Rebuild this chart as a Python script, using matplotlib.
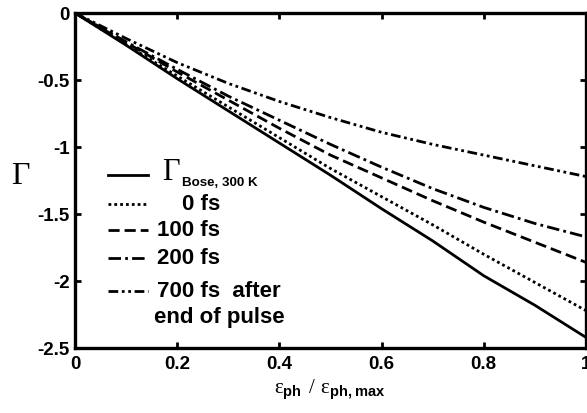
import matplotlib
matplotlib.use("Agg")
import matplotlib.pyplot as plt
import numpy as np

# phonon energy (normalised) and Gamma curves
x = [0.0, 0.1, 0.2, 0.3, 0.4, 0.5, 0.6, 0.7, 0.8, 0.9, 1.0]
gamma_bose = [0, -0.24, -0.49, -0.73, -0.97, -1.21, -1.46, -1.70, -1.96, -2.18, -2.42]
gamma_0fs = [0, -0.235, -0.47, -0.70, -0.93, -1.16, -1.37, -1.58, -1.80, -2.01, -2.22]
gamma_100fs = [0, -0.22, -0.44, -0.65, -0.86, -1.06, -1.23, -1.40, -1.56, -1.71, -1.86]
gamma_200fs = [0, -0.215, -0.42, -0.62, -0.80, -0.98, -1.15, -1.31, -1.45, -1.57, -1.67]
gamma_700fs = [0, -0.19, -0.37, -0.525, -0.66, -0.78, -0.89, -0.98, -1.06, -1.14, -1.22]

x_ticks = [0, 0.2, 0.4, 0.6, 0.8, 1]
x_ticklabels = ["0", "0.2", "0.4", "0.6", "0.8", "1"]
y_ticks = [0, -0.5, -1, -1.5, -2, -2.5]
y_ticklabels = ["0", "-0.5", "-1", "-1.5", "-2", "-2.5"]

plt.rcParams["mathtext.fontset"] = "custom"
plt.rcParams["mathtext.rm"] = "Liberation Serif"
plt.rcParams["mathtext.bf"] = "Liberation Sans:bold"

SANS = "Liberation Sans"
SERIF = "Liberation Serif"
lw = 2.0

styles = [
    (gamma_bose, "-"),
    (gamma_0fs, (0, (1, 1.1))),
    (gamma_100fs, (0, (4, 1.8))),
    (gamma_200fs, (0, (4.5, 1.5, 1, 1.5))),
    (gamma_700fs, (0, (3.5, 1.3, 1, 1.3, 1, 1.3))),
]

fig = plt.figure(figsize=(5.87, 4.13), dpi=100)
ax = fig.add_axes([0.1278, 0.157, 0.8705, 0.8115])

for y, ls in styles:
    ax.plot(x, y, color="black", lw=lw, linestyle=ls)

ax.set_xlim(0, 1)
ax.set_ylim(-2.5, 0)
ax.set_xticks(x_ticks)
ax.set_xticklabels(x_ticklabels, fontfamily=SANS, fontweight="bold", fontsize=13.5)
ax.set_yticks(y_ticks)
ax.set_yticklabels(y_ticklabels, fontfamily=SANS, fontweight="bold", fontsize=13.5)
ax.tick_params(direction="in", length=4, width=2, top=True, right=True)
ax.tick_params(axis="x", pad=6)
ax.tick_params(axis="y", pad=4)
for s in ax.spines.values():
    s.set_linewidth(2.4)

# legend drawn by hand (axes coordinates)
rows = [0.518, 0.430, 0.352, 0.269, 0.170]
for (y, ls), ry in zip(styles, rows):
    ax.plot([0.065, 0.143], [ry, ry], transform=ax.transAxes, color="black",
            lw=lw, linestyle=ls, clip_on=False)

tk = dict(transform=ax.transAxes, va="center", ha="left", fontfamily=SANS,
          fontweight="bold", fontsize=16)
ax.text(0.170, rows[0] + 0.005, "\u0393", transform=ax.transAxes, va="center",
        ha="left", fontfamily=SERIF, fontsize=22)
ax.text(0.209, rows[0] - 0.024, "Bose, 300 K", transform=ax.transAxes,
        va="center", ha="left", fontfamily=SANS, fontweight="bold", fontsize=9.6)
ax.text(0.210, rows[1], "0 fs", **tk)
ax.text(0.160, rows[2], "100 fs", **tk)
ax.text(0.160, rows[3], "200 fs", **tk)
ax.text(0.160, rows[4], "700 fs  after", **tk)
ax.text(0.155, 0.090, "end of pulse", **tk)

fig.text(20 / 587, 1 - 177 / 413, "\u0393", fontfamily=SERIF, fontsize=23,
         ha="center", va="center")
fig.text(330 / 587, 1 - 390 / 413,
         "$\\mathrm{ε}_{\\mathbf{ph}}\\ \\mathrm{/}\\ \\mathrm{ε}_{\\mathbf{ph,max}}$",
         fontsize=15, ha="center", va="center")

fig.savefig("out.png", dpi=100)
